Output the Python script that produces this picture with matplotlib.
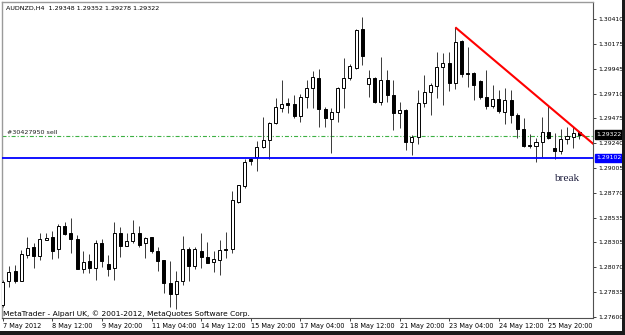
"""
Grafico H4 de AUDNZD al estilo MetaTrader: velas, linea de tendencia bajista,
soporte horizontal y la orden de venta abierta.
"""

import numpy as np
import matplotlib
matplotlib.use("Agg")
import matplotlib.pyplot as plt
from matplotlib.patches import Rectangle
from matplotlib.transforms import blended_transform_factory

# --- Datos (velas H4, 7 May 2012 - 28 May 2012) ---
symbol = "AUDNZD,H4"

opens = [
    1.27716, 1.27943, 1.28040, 1.27946, 1.28188, 1.28260, 1.28181, 1.28329, 1.28354, 1.28241,
    1.28458, 1.28398, 1.28335, 1.28059, 1.28134, 1.28069, 1.28298, 1.28100, 1.28065, 1.28392,
    1.28276, 1.28316, 1.28392, 1.28298, 1.28354, 1.28228, 1.28140, 1.27927, 1.27820, 1.27943,
    1.28241, 1.28087, 1.28228, 1.28172, 1.28118, 1.28140, 1.28244, 1.28241, 1.28691, 1.28838,
    1.29090, 1.29115, 1.29209, 1.29272, 1.29429, 1.29571, 1.29618, 1.29611, 1.29498, 1.29674,
    1.29759, 1.29853, 1.29561, 1.29470, 1.29539, 1.29759, 1.29853, 1.29954, 1.30315, 1.29800,
    1.29853, 1.29633, 1.29838, 1.29696, 1.29530, 1.29555, 1.29256, 1.29297, 1.29624, 1.29728,
    1.29784, 1.29957, 1.30001, 1.29806, 1.30205, 1.29901, 1.29901, 1.29831, 1.29674, 1.29593,
    1.29662, 1.29539, 1.29649, 1.29508, 1.29373, 1.29225, 1.29219, 1.29250, 1.29351, 1.29193,
    1.29171, 1.29278, 1.29303, 1.29348,
]
highs = [
    1.27952, 1.28087, 1.28093, 1.28235, 1.28354, 1.28304, 1.28392, 1.28398, 1.28414, 1.28477,
    1.28496, 1.28533, 1.28376, 1.28225, 1.28197, 1.28329, 1.28335, 1.28188, 1.28502, 1.28455,
    1.28392, 1.28518, 1.28461, 1.28357, 1.28360, 1.28266, 1.28140, 1.28134, 1.28040, 1.28367,
    1.28266, 1.28260, 1.28392, 1.28313, 1.28228, 1.28329, 1.28401, 1.28794, 1.28848, 1.29090,
    1.29099, 1.29266, 1.29492, 1.29439, 1.29671, 1.29838, 1.29671, 1.29696, 1.29706, 1.29838,
    1.29923, 1.29938, 1.29580, 1.29571, 1.29769, 1.30042, 1.29986, 1.30315, 1.30429, 1.29932,
    1.29863, 1.30051, 1.29932, 1.29838, 1.29633, 1.29561, 1.29319, 1.29743, 1.29885, 1.29813,
    1.30105, 1.30089, 1.30105, 1.30334, 1.30215, 1.30152, 1.29916, 1.29838, 1.29932, 1.29791,
    1.29743, 1.29759, 1.29743, 1.29523, 1.29476, 1.29325, 1.29294, 1.29486, 1.29593, 1.29335,
    1.29379, 1.29391, 1.29391, 1.29352,
]
lows = [
    1.27694, 1.27883, 1.27927, 1.27940, 1.28156, 1.28062, 1.28140, 1.28325, 1.28147, 1.28156,
    1.28376, 1.28203, 1.28052, 1.28021, 1.28021, 1.27952, 1.28078, 1.27990, 1.27952, 1.28172,
    1.28274, 1.28298, 1.28260, 1.28163, 1.28203, 1.28040, 1.27826, 1.27700, 1.27675, 1.27905,
    1.27946, 1.28052, 1.28062, 1.28109, 1.28030, 1.27999, 1.28156, 1.28203, 1.28681, 1.28816,
    1.29036, 1.28983, 1.29193, 1.29090, 1.29423, 1.29539, 1.29530, 1.29476, 1.29445, 1.29571,
    1.29571, 1.29398, 1.29391, 1.29146, 1.29445, 1.29571, 1.29838, 1.29938, 1.29979, 1.29677,
    1.29624, 1.29602, 1.29633, 1.29366, 1.29382, 1.29178, 1.29130, 1.29234, 1.29580, 1.29508,
    1.29665, 1.29602, 1.29737, 1.29750, 1.29863, 1.29769, 1.29649, 1.29655, 1.29561, 1.29571,
    1.29530, 1.29423, 1.29429, 1.29288, 1.29203, 1.29193, 1.29068, 1.29115, 1.29280, 1.29090,
    1.29140, 1.29234, 1.29200, 1.29278,
]
closes = [
    1.27936, 1.28030, 1.27946, 1.28197, 1.28250, 1.28178, 1.28335, 1.28351, 1.28228, 1.28458,
    1.28382, 1.28335, 1.28059, 1.28125, 1.28069, 1.28298, 1.28131, 1.28052, 1.28398, 1.28272,
    1.28316, 1.28392, 1.28285, 1.28345, 1.28228, 1.28134, 1.27927, 1.27820, 1.27943, 1.28241,
    1.28087, 1.28241, 1.28172, 1.28115, 1.28147, 1.28235, 1.28235, 1.28706, 1.28845, 1.29068,
    1.29077, 1.29209, 1.29272, 1.29429, 1.29580, 1.29611, 1.29602, 1.29498, 1.29674, 1.29759,
    1.29863, 1.29561, 1.29476, 1.29533, 1.29759, 1.29860, 1.29970, 1.30309, 1.30064, 1.29853,
    1.29633, 1.29838, 1.29696, 1.29523, 1.29555, 1.29256, 1.29303, 1.29618, 1.29728, 1.29791,
    1.29957, 1.30001, 1.29806, 1.30199, 1.29894, 1.29894, 1.29791, 1.29674, 1.29593, 1.29662,
    1.29549, 1.29649, 1.29508, 1.29373, 1.29219, 1.29219, 1.29250, 1.29351, 1.29288, 1.29171,
    1.29278, 1.29310, 1.29341, 1.29322,
]

# Etiquetas del eje de tiempo (una cada 8 velas)
time_tick_bars = [0, 8, 16, 24, 32, 40, 48, 56, 64, 72, 80, 88]
time_tick_labels = [
    "7 May 2012", "8 May 12:00", "9 May 20:00", "11 May 04:00", "14 May 12:00",
    "15 May 20:00", "17 May 04:00", "18 May 12:00", "21 May 20:00", "23 May 04:00",
    "24 May 12:00", "25 May 20:00",
]
price_ticks = [
    1.30410, 1.30175, 1.29945, 1.29710, 1.29475, 1.29240, 1.29005,
    1.28770, 1.28535, 1.28305, 1.28070, 1.27835, 1.27600,
]

support_level = 1.29102
sell_level = 1.29310
sell_label = "#30427950 sell"
trend_start, trend_end = 73, 88   # velas cuyos maximos definen la linea roja
footer = "MetaTrader - Alpari UK, \u00a9 2001-2012, MetaQuotes Software Corp."

# --- Figura ---
W, H = 625, 335
fig = plt.figure(figsize=(W / 100, H / 100), dpi=100, facecolor="white")
ax = fig.add_axes([2 / W, 1 - 318 / H, 591 / W, 316 / H])
ax.set_facecolor("white")

o = np.array(opens)
h = np.array(highs)
l = np.array(lows)
c = np.array(closes)
x = np.arange(len(o))
up = c >= o

# Mechas y cuerpos
ax.vlines(x, l, h, color="#383838", linewidth=0.7, zorder=2)
body_bottom = np.minimum(o, c)
body_height = np.maximum(np.abs(c - o), 0.00003)
ax.bar(x[up], body_height[up], bottom=body_bottom[up], width=0.5,
       facecolor="white", edgecolor="black", linewidth=0.7, zorder=3)
ax.bar(x[~up], body_height[~up], bottom=body_bottom[~up], width=0.5,
       facecolor="black", edgecolor="black", linewidth=0.7, zorder=3)

xmin, xmax = -0.11, 95.2
ax.set_xlim(xmin, xmax)
ax.set_ylim(1.27593, 1.30573)

# Soporte y orden de venta
ax.axhline(support_level, color="#0000ff", linewidth=1.3, zorder=4)
ax.axhline(sell_level, color="#3cb043", linewidth=0.8, zorder=1,
           linestyle=(0, (3.6, 1.8, 1.0, 1.8)))
ax.text(0.7, sell_level + 0.00012, sell_label, fontsize=4.6, color="#202020",
        va="bottom", ha="left")

# Linea de tendencia (rayo desde dos maximos)
slope = (h[trend_end] - h[trend_start]) / (trend_end - trend_start)
ray_x = np.array([trend_start, xmax + 1])
ray_y = h[trend_start] + slope * (ray_x - trend_start)
ax.plot(ray_x, ray_y, color="#ff0000", linewidth=1.5, zorder=5, solid_capstyle="butt")

ax.text(88.9, 1.28885, "break", family="Liberation Serif", fontsize=8.2,
        color="#1c1c3c", ha="left", va="baseline")

# Ejes estilo MetaTrader
ax.yaxis.tick_right()
ax.set_yticks(price_ticks, [f"{p:.5f}" for p in price_ticks])
ax.set_xticks(time_tick_bars, time_tick_labels)
for lab in ax.get_xticklabels():
    lab.set_horizontalalignment("left")
ax.tick_params(axis="both", direction="out", length=2, width=0.7, pad=1.5,
               labelsize=4.4, colors="#404040", labelcolor="black")
ax.tick_params(axis="x", labelsize=4.7)
for side in ("left", "top"):
    ax.spines[side].set_color("#9a9a9a")
    ax.spines[side].set_linewidth(1.0)
for side in ("right", "bottom"):
    ax.spines[side].set_color("#505050")
    ax.spines[side].set_linewidth(0.8)

# Cajas de precio a la derecha
trans = blended_transform_factory(ax.transAxes, ax.transData)
ax.text(1.006, c[-1], f"{c[-1]:.5f}", transform=trans, fontsize=4.4, color="white",
        va="center", ha="left", clip_on=False, zorder=6,
        bbox=dict(boxstyle="square,pad=0.3", fc="black", ec="black"))
ax.text(1.006, support_level, f"{support_level:.5f}", transform=trans, fontsize=4.4,
        color="white", va="center", ha="left", clip_on=False, zorder=6,
        bbox=dict(boxstyle="square,pad=0.3", fc="#0000ff", ec="#0000ff"))

# Encabezado y pie
fig.text(6 / W, 1 - 8 / H,
         f"{symbol}  {o[-1]:.5f} {h[-1]:.5f} {l[-1]:.5f} {c[-1]:.5f}",
         fontsize=4.6, va="center", ha="left", color="black")
ax.text(0.002, 0.003, footer, transform=ax.transAxes, fontsize=5.4,
        va="bottom", ha="left", color="black")

# Borde oscuro de la ventana (derecha y abajo)
fig.add_artist(Rectangle((622 / W, 0), 3 / W, 1, transform=fig.transFigure,
                         facecolor="#1a1a1a", edgecolor="none"))
fig.add_artist(Rectangle((0, 0), 1, 4 / H, transform=fig.transFigure,
                         facecolor="#1a1a1a", edgecolor="none"))

fig.savefig("out.png", dpi=100)
